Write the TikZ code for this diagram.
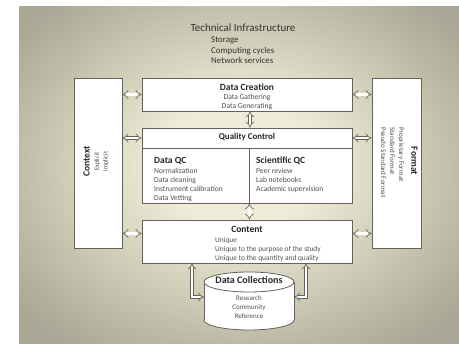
\documentclass[tikz,border=0pt]{standalone}
\usepackage{fontspec}
\setmainfont{Carlito}
\usetikzlibrary{positioning,arrows.meta}
\definecolor{slidelight}{RGB}{238,236,216}
\definecolor{slidemid}{RGB}{206,203,182}
\definecolor{slidedark}{RGB}{170,168,150}
\definecolor{boxline}{RGB}{100,99,90}
\definecolor{itemgray}{RGB}{80,80,80}
\definecolor{titlegray}{RGB}{50,50,50}
\pgfdeclareradialshading{slidebg}{\pgfpoint{0bp}{2bp}}{color(0bp)=(slidelight); color(9bp)=(slidelight); color(20bp)=(slidemid); color(32bp)=(slidedark); color(50bp)=(slidedark)}
\tikzset{
  box/.style={draw=boxline, line width=0.8pt, fill=white},
  cyl/.style={draw=boxline, line width=0.8pt},
  dblarrow/.style={draw=boxline, line width=0.6pt, double=white, double distance=2.6pt, {Implies[scale=0.7]}-{Implies[scale=0.7]}},
  headtxt/.style={font=\fontsize{9.5}{11}\selectfont\bfseries, text=black!85},
  itemtxt/.style={font=\fontsize{7.6}{9}\selectfont, text=itemgray}
}
\begin{document}
\begin{tikzpicture}[x=1pt, y=-1pt, every node/.style={inner sep=0pt}]
  \useasboundingbox (0,0) rectangle (459,344);
  \fill[white] (0,0) rectangle (459,344);
  \shade[shading=slidebg] (19,7) rectangle (459,344);

  % infrastructure
  \node[font=\fontsize{11}{13}\selectfont, text=titlegray] (infra) at (243,28) {Technical Infrastructure};
  \node[itemtxt, font=\fontsize{8.9}{10.5}\selectfont, text=titlegray, anchor=north west, align=left] (infraitems) at (211,37) {Storage\\Computing cycles\\Network services};

  % middle column
  \node[box, minimum width=210pt, minimum height=33pt] (dcr) at (247,94.5) {};
  \node[headtxt] (dcrhd) at (247,87) {Data Creation};
  \node[itemtxt, align=center, anchor=north] (dcritems) at (247,93.8) {Data Gathering\\Data Generating};

  \node[box, minimum width=210pt, minimum height=20pt] (qchead) at (247,138) {};
  \node[headtxt, font=\fontsize{8.9}{10}\selectfont\bfseries] (qchd) at (247,137.5) {Quality Control};
  \node[box, minimum width=107pt, minimum height=55pt] (dqc) at (195.5,175.5) {};
  \node[box, minimum width=103pt, minimum height=55pt] (sqc) at (300.5,175.5) {};
  \node[headtxt, anchor=west] (dqchd) at (154,161) {Data QC};
  \node[itemtxt, anchor=north west, align=left] (dqcitems) at (154,167.8) {Normalization\\Data cleaning\\Instrument calibration\\Data Vetting};
  \node[headtxt, anchor=west] (sqchd) at (256,161) {Scientific QC};
  \node[itemtxt, anchor=north west, align=left] (sqcitems) at (256,167.8) {Peer review\\Lab notebooks\\Academic supervision};

  \node[box, minimum width=210pt, minimum height=43pt] (cnt) at (247,241.5) {};
  \node[headtxt] (cnthd) at (247,229) {Content};
  \node[itemtxt, font=\fontsize{7.4}{9}\selectfont, anchor=north west, align=left] (cntitems) at (215,236.8) {Unique\\Unique to the purpose of the study\\Unique to the quantity and quality};

  % side boxes
  \node[box, minimum width=48pt, minimum height=170pt] (ctx) at (98,163) {};
  \node[headtxt, rotate=90] (ctxhd) at (86.5,161.5) {Context};
  \node[itemtxt, font=\fontsize{6.5}{8.8}\selectfont, rotate=90, align=center] (ctxitems) at (101.5,161.5) {Explicit\\Implicit};

  \node[box, minimum width=49pt, minimum height=170pt] (fmt) at (396.5,163) {};
  \node[headtxt, rotate=-90] (fmthd) at (414.5,161) {Format};
  \node[itemtxt, font=\fontsize{7}{9}\selectfont, rotate=-90, align=left] (fmtitems) at (392.5,162.5) {Proprietary Format\\Standard Format\\Pseudo Standard Format};

  % data collections
  \draw[cyl, fill=white] (249,320) ellipse [x radius=45, y radius=10];
  \fill[white] (204,282) rectangle (294,320);
  \draw[cyl] (204,282) -- (204,320) (294,282) -- (294,320);
  \draw[cyl, fill=white] (249,282) ellipse [x radius=45, y radius=10];
  \node[headtxt, font=\fontsize{10}{11}\selectfont\bfseries] (dchd) at (249,280) {Data Collections};
  \node[itemtxt, font=\fontsize{7}{9}\selectfont, anchor=north, align=center] (dcitems) at (249,295.5) {Research\\Community\\Reference};
  \coordinate (dcl) at (204,297);
  \coordinate (dcrr) at (294,297);

  % arrows
  \draw[dblarrow] (ctx.east |- dcr.west) -- (dcr.west);
  \draw[dblarrow] (ctx.east |- qchead.west) -- (qchead.west);
  \coordinate (cntl) at ([yshift=8pt]cnt.west);
  \draw[dblarrow] (ctx.east |- cntl) -- (cntl);
  \draw[dblarrow] (dcr.east) -- (fmt.west |- dcr.east);
  \draw[dblarrow] (qchead.east) -- (fmt.west |- qchead.east);
  \coordinate (cntr) at ([yshift=8pt]cnt.east);
  \draw[dblarrow] (cntr) -- (fmt.west |- cntr);
  \draw[dblarrow] ([xshift=3pt]dcr.south) -- ([xshift=3pt]qchead.north);
  \draw[dblarrow] (dqc.south east) -- (cnt.north -| dqc.south east);
  \draw[dblarrow] ([xshift=-55pt]cnt.south) |- (dcl);
  \draw[dblarrow] ([xshift=59pt]cnt.south) |- (dcrr);
\end{tikzpicture}
\end{document}
